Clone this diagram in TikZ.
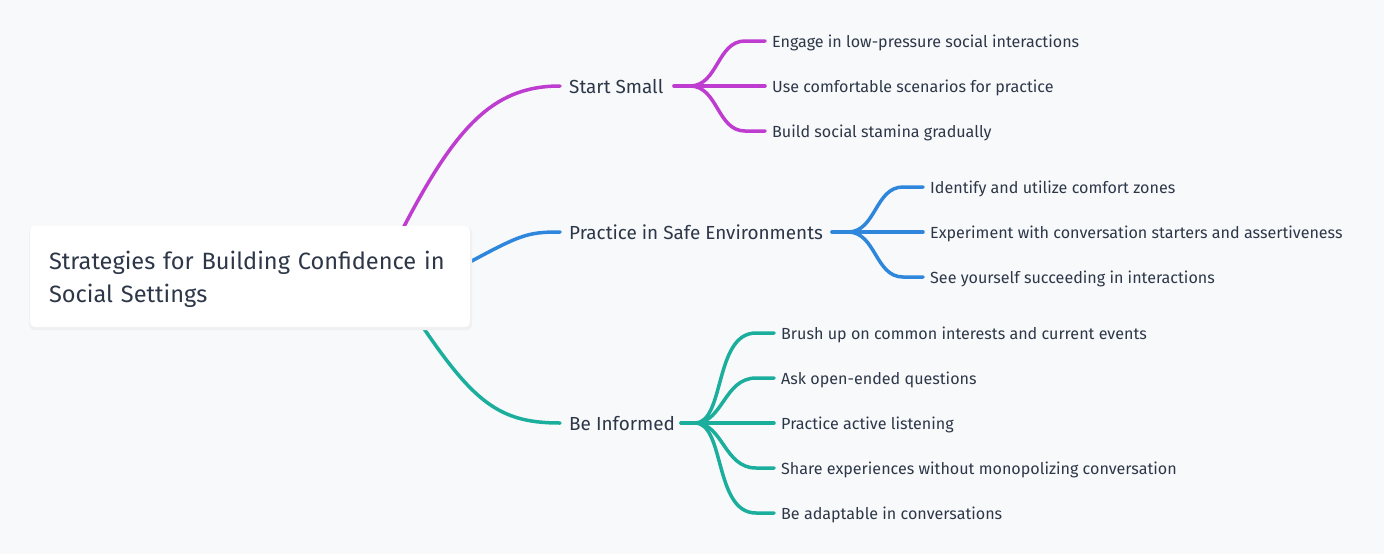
\documentclass[tikz,border=0pt]{standalone}
\usepackage{fontspec}
\setmainfont{Fira Sans}
\usetikzlibrary{calc}
\pgfdeclarelayer{bglayer}
\pgfdeclarelayer{lines}
\pgfsetlayers{bglayer,lines,main}
\definecolor{bgc}{HTML}{F7F9FB}
\definecolor{txt}{HTML}{2D3748}
\definecolor{cmag}{HTML}{BE3CCF}
\definecolor{cblue}{HTML}{2E87DC}
\definecolor{cteal}{HTML}{1BAE9C}
\tikzset{
  rootbox/.style={fill=white, rounded corners=5pt, minimum width=440pt, minimum height=101pt, inner sep=0pt},
  roottext/.style={text=txt, align=left, text width=402pt, inner sep=0pt, font=\fontsize{23.6}{33}\selectfont},
  topic/.style={text=txt, inner xsep=9pt, inner ysep=0pt, anchor=mid west, yshift=-5pt, font=\fontsize{18.9}{20}\selectfont},
  leaf/.style={text=txt, inner xsep=7pt, inner ysep=0pt, anchor=mid west, yshift=-3.5pt, font=\fontsize{16.1}{18}\selectfont},
  conn/.style={line width=3.5pt, line cap=round},
  branch/.style={conn, to path={-- ++(16,0) .. controls +(28,0) and ($(\tikztotarget)+(-48,0)$) .. ($(\tikztotarget)+(-20,0)$) -- (\tikztotarget)}},
}
\begin{document}
\begin{tikzpicture}[x=1pt,y=-1pt]
\begin{pgfonlayer}{bglayer}
\fill[bgc] (0,0) rectangle (1384,554);
\end{pgfonlayer}
\useasboundingbox (0,0) rectangle (1384,554);

% topics
\node[topic] (ss) at (560,86) {Start Small};
\node[topic] (pr) at (560,232) {Practice in Safe Environments};
\node[topic] (bi) at (560,423) {Be Informed};

% leaves
\node[leaf] (ss1) at (765,41) {Engage in low-pressure social interactions};
\node[leaf] (ss2) at (765,86) {Use comfortable scenarios for practice};
\node[leaf] (ss3) at (765,131) {Build social stamina gradually};

\node[leaf] (pr1) at (923,187) {Identify and utilize comfort zones};
\node[leaf] (pr2) at (923,232) {Experiment with conversation starters and assertiveness};
\node[leaf] (pr3) at (923,277) {See yourself succeeding in interactions};

\node[leaf] (bi1) at (774,333) {Brush up on common interests and current events};
\node[leaf] (bi2) at (774,378) {Ask open-ended questions};
\node[leaf] (bi3) at (774,423) {Practice active listening};
\node[leaf] (bi4) at (774,468) {Share experiences without monopolizing conversation};
\node[leaf] (bi5) at (774,513) {Be adaptable in conversations};

\coordinate (r1) at (392,250);
\coordinate (r2) at (455,270);
\coordinate (r3) at (405,300);
\coordinate (sso) at (674,86);
\coordinate (pro) at (832,232);
\coordinate (bio) at (681,423);
\coordinate (ssi) at (560,86);
\coordinate (pri) at (560,232);
\coordinate (bii) at (560,423);

\begin{pgfonlayer}{lines}
\draw[conn,cmag] (r1) .. controls (452,130) and (490,86) .. (ssi);
\draw[conn,cblue] (r2) .. controls (520,235) and (525,232) .. (pri);
\draw[conn,cteal] (r3) .. controls (470,400) and (495,423) .. (bii);

\foreach \t/\y in {ss1/41,ss2/86,ss3/131} \draw[branch,cmag] (sso) to (765,\y);
\foreach \t/\y in {pr1/187,pr2/232,pr3/277} \draw[branch,cblue] (pro) to (923,\y);
\draw[conn,cteal] (bio) -- ++(14,0) .. controls +(30,0) and (714,333) .. (756,333) -- (774,333);
\draw[conn,cteal] (bio) -- ++(14,0) .. controls +(28,0) and (724,378) .. (756,378) -- (774,378);
\draw[conn,cteal] (bio) -- (774,423);
\draw[conn,cteal] (bio) -- ++(14,0) .. controls +(28,0) and (724,468) .. (756,468) -- (774,468);
\draw[conn,cteal] (bio) -- ++(14,0) .. controls +(30,0) and (714,513) .. (756,513) -- (774,513);
\end{pgfonlayer}

% root
\fill[black!6, rounded corners=6pt] (29,227) rectangle (472,330);
\node[rootbox] (root) at (250,276.5) {};
\node[roottext] (roottitle) at (250,279.5) {Strategies for Building Confidence in Social Settings};
\end{tikzpicture}
\end{document}
